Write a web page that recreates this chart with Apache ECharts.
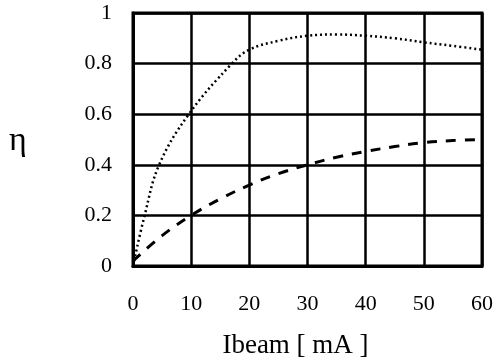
<!DOCTYPE html>
<html>
<head>
<meta charset="utf-8">
<script src="https://cdn.jsdelivr.net/npm/echarts@6/dist/echarts.min.js"></script>
<style>
  html, body { margin: 0; padding: 0; background: #fff; }
  #chart { width: 496px; height: 364px; }
</style>
</head>
<body>
<div id="chart"></div>
<script>
// values
const dottedX = [0, 2, 4.5, 9.6, 17, 20, 25, 30, 35, 40, 45, 50, 55, 60];
const dottedY = [0, 0.2, 0.4, 0.6, 0.8, 0.855, 0.89, 0.91, 0.915, 0.91, 0.9, 0.884, 0.87, 0.855];
const dashedX = [0, 5, 10, 15, 20, 25, 30, 35, 40, 45, 50, 55, 60];
const dashedY = [0.02, 0.12, 0.2, 0.265, 0.32, 0.365, 0.4, 0.43, 0.453, 0.472, 0.488, 0.496, 0.5];

const fontFam = '"Liberation Serif", "DejaVu Serif", serif';

const chart = echarts.init(document.getElementById('chart'), null, { renderer: 'canvas' });

chart.setOption({
  animation: false,
  backgroundColor: '#fff',
  grid: {
    left: 133, right: 13, top: 13, bottom: 95,
    show: true, borderColor: '#000', borderWidth: 3
  },
  xAxis: {
    type: 'value', min: 0, max: 60, interval: 10,
    name: 'Ibeam [ mA ]',
    nameLocation: 'middle',
    nameGap: 66,
    nameTextStyle: { color: '#000', fontFamily: fontFam, fontSize: 27, padding: [0, 24, 0, 0] },
    axisLine: { show: true, lineStyle: { color: '#000', width: 3 } },
    axisTick: { show: false },
    axisLabel: { color: '#000', fontFamily: fontFam, fontSize: 22, margin: 27 },
    splitLine: { show: true, lineStyle: { color: '#000', width: 2.5 } }
  },
  yAxis: {
    type: 'value', min: 0, max: 1, interval: 0.2,
    axisLine: { show: true, lineStyle: { color: '#000', width: 3 } },
    axisTick: { show: false },
    axisLabel: { color: '#000', fontFamily: fontFam, fontSize: 22, margin: 21 },
    splitLine: { show: true, lineStyle: { color: '#000', width: 2.5 } }
  },
  graphic: [{
    type: 'text', left: 9, top: 124,
    style: { text: 'η', fill: '#000', font: '34px ' + fontFam }
  }],
  series: [
    {
      type: 'line', smooth: 0.4, symbol: 'none',
      data: dottedX.map((x, i) => [x, dottedY[i]]),
      lineStyle: { color: '#000', width: 2.5, type: [2, 3] }
    },
    {
      type: 'line', smooth: 0.4, symbol: 'none',
      data: dashedX.map((x, i) => [x, dashedY[i]]),
      lineStyle: { color: '#000', width: 3, type: [10, 9] }
    }
  ]
});
</script>
</body>
</html>
